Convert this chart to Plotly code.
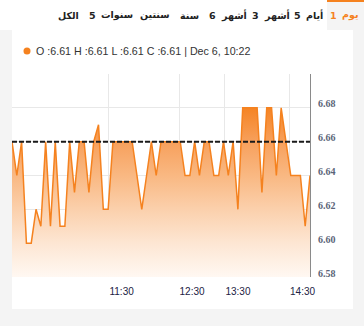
import plotly.graph_objects as go

# ---- data ----
prices = [6.66, 6.64, 6.66, 6.60, 6.60, 6.62, 6.61, 6.66, 6.61, 6.66,
          6.61, 6.61, 6.66, 6.63, 6.66, 6.66, 6.63, 6.66, 6.67, 6.62,
          6.62, 6.66, 6.66, 6.66, 6.66, 6.66, 6.64, 6.62, 6.64, 6.66,
          6.64, 6.66, 6.66, 6.66, 6.66, 6.66, 6.64, 6.64, 6.66, 6.64,
          6.66, 6.66, 6.64, 6.64, 6.66, 6.64, 6.66, 6.62, 6.68, 6.68,
          6.68, 6.68, 6.63, 6.68, 6.68, 6.64, 6.68, 6.66, 6.64, 6.64,
          6.64, 6.61, 6.64]
prev_close = 6.66
x_tick_pos = [20.1, 34.75, 44.3, 57.75]
x_tick_text = ["11:30", "12:30", "13:30", "14:30"]
y_tick_vals = [6.58, 6.60, 6.62, 6.64, 6.66, 6.68, 6.70]
y_tick_text = ["6.58", "6.60", "6.62", "6.64", "6.66", "6.68", ""]
tabs = ["1 يوم", "5 أيام", "3 أشهر", "6 أشهر", "سنة", "سنتين", "5 سنوات", "الكل"]
tab_word_left = [340, 304, 262, 219, 182, 142, 99, 59]
tab_word_right = [356, 320, 283, 241, 197, 168, 127, 77]
header = "O :6.61 H :6.61 L :6.61 C :6.61 | Dec 6, 10:22"

W, H = 364, 326
L, R, T, B = 12, 54, 74, 49
PW, PH = W - L - R, H - T - B


def px(x):
    return (x - L) / PW


def py(y):
    return (H - B - y) / PH


ORANGE = "#f5821f"
xs = list(range(len(prices)))

fig = go.Figure()
fig.add_trace(go.Scatter(
    x=xs, y=prices, mode="lines",
    line=dict(color=ORANGE, width=1.5),
    fill="tozeroy",
    fillgradient=dict(
        type="vertical", start=6.58, stop=6.68,
        colorscale=[[0, "rgb(255,248,242)"], [0.2, "rgb(253,230,211)"],
                    [0.4, "rgb(251,208,172)"], [0.6, "rgb(249,184,130)"],
                    [0.8, "rgb(247,160,92)"], [1, "rgb(245,132,36)"]]),
    hoverinfo="skip", showlegend=False,
))

shapes = [
    dict(type="rect", xref="paper", yref="paper", x0=px(0), x1=px(W), y0=py(30), y1=py(0),
         fillcolor="white", line_width=0, layer="below"),
    dict(type="rect", xref="paper", yref="paper", x0=px(12), x1=px(353), y0=py(309), y1=py(29),
         fillcolor="white", line_width=0, layer="below"),
    dict(type="rect", xref="paper", yref="paper", x0=px(327), x1=px(W), y0=py(30), y1=py(1),
         fillcolor="#f4f4f4", line_width=0, layer="below"),
    dict(type="line", xref="paper", yref="paper", x0=px(327), x1=px(W), y0=py(1), y1=py(1),
         line=dict(color=ORANGE, width=2)),
    dict(type="line", xref="paper", yref="y", x0=0, x1=1, y0=prev_close, y1=prev_close,
         line=dict(color="#1a1a1a", width=2, dash="5px,2px"), layer="above"),
    dict(type="circle", xref="paper", yref="paper", x0=px(23.5), x1=px(30.5), y0=py(54.5), y1=py(47.5),
         fillcolor=ORANGE, line_width=0),
]

annotations = []
for i, t in enumerate(tabs):
    col = ORANGE if i == 0 else "#222222"
    fnt = dict(family="DejaVu Sans", size=9.5, color=col, weight="bold")
    parts = t.split(" ")
    if len(parts) == 2:
        digit, word = parts
        annotations.append(dict(
            text=word, x=px(tab_word_left[i]), y=py(15), xref="paper", yref="paper",
            xanchor="left", yanchor="middle", showarrow=False, font=fnt))
        annotations.append(dict(
            text=digit, x=px(tab_word_left[i] - 1), y=py(15), xref="paper", yref="paper",
            xanchor="right", yanchor="middle", showarrow=False, font=fnt))
    else:
        annotations.append(dict(
            text=t, x=px((tab_word_left[i] + tab_word_right[i]) / 2), y=py(15),
            xref="paper", yref="paper",
            xanchor="center", yanchor="middle", showarrow=False, font=fnt))
annotations.append(dict(
    text=header, x=px(34), y=py(51), xref="paper", yref="paper",
    xanchor="left", yanchor="middle", showarrow=False,
    font=dict(family="Liberation Sans", size=10.7, color="#333333"),
))

fig.update_layout(
    width=W, height=H,
    margin=dict(l=L, r=R, t=T, b=B, pad=0),
    paper_bgcolor="#f4f4f4", plot_bgcolor="white",
    shapes=shapes, annotations=annotations,
    showlegend=False,
    xaxis=dict(range=[0, len(prices) - 1], tickvals=x_tick_pos, ticktext=x_tick_text,
               showgrid=True, gridcolor="#e8e8e8", gridwidth=1, zeroline=False,
               showline=False, ticks="", ticklabelshift=13, ticklabelstandoff=7,
               tickfont=dict(family="Liberation Sans", size=10, color="#222244")),
    yaxis=dict(range=[6.58, 6.70], side="right", tickvals=y_tick_vals, ticktext=y_tick_text,
               showgrid=True, gridcolor="#e8e8e8", gridwidth=1, zeroline=False,
               showline=True, linecolor="#8a8a8a", linewidth=1, ticks="",
               ticklabelshift=-4, ticklabelstandoff=5,
               tickfont=dict(family="Liberation Serif", size=10, color="#5b6478", weight="bold")),
)

fig.write_html("out.html", config={"displayModeBar": False})
